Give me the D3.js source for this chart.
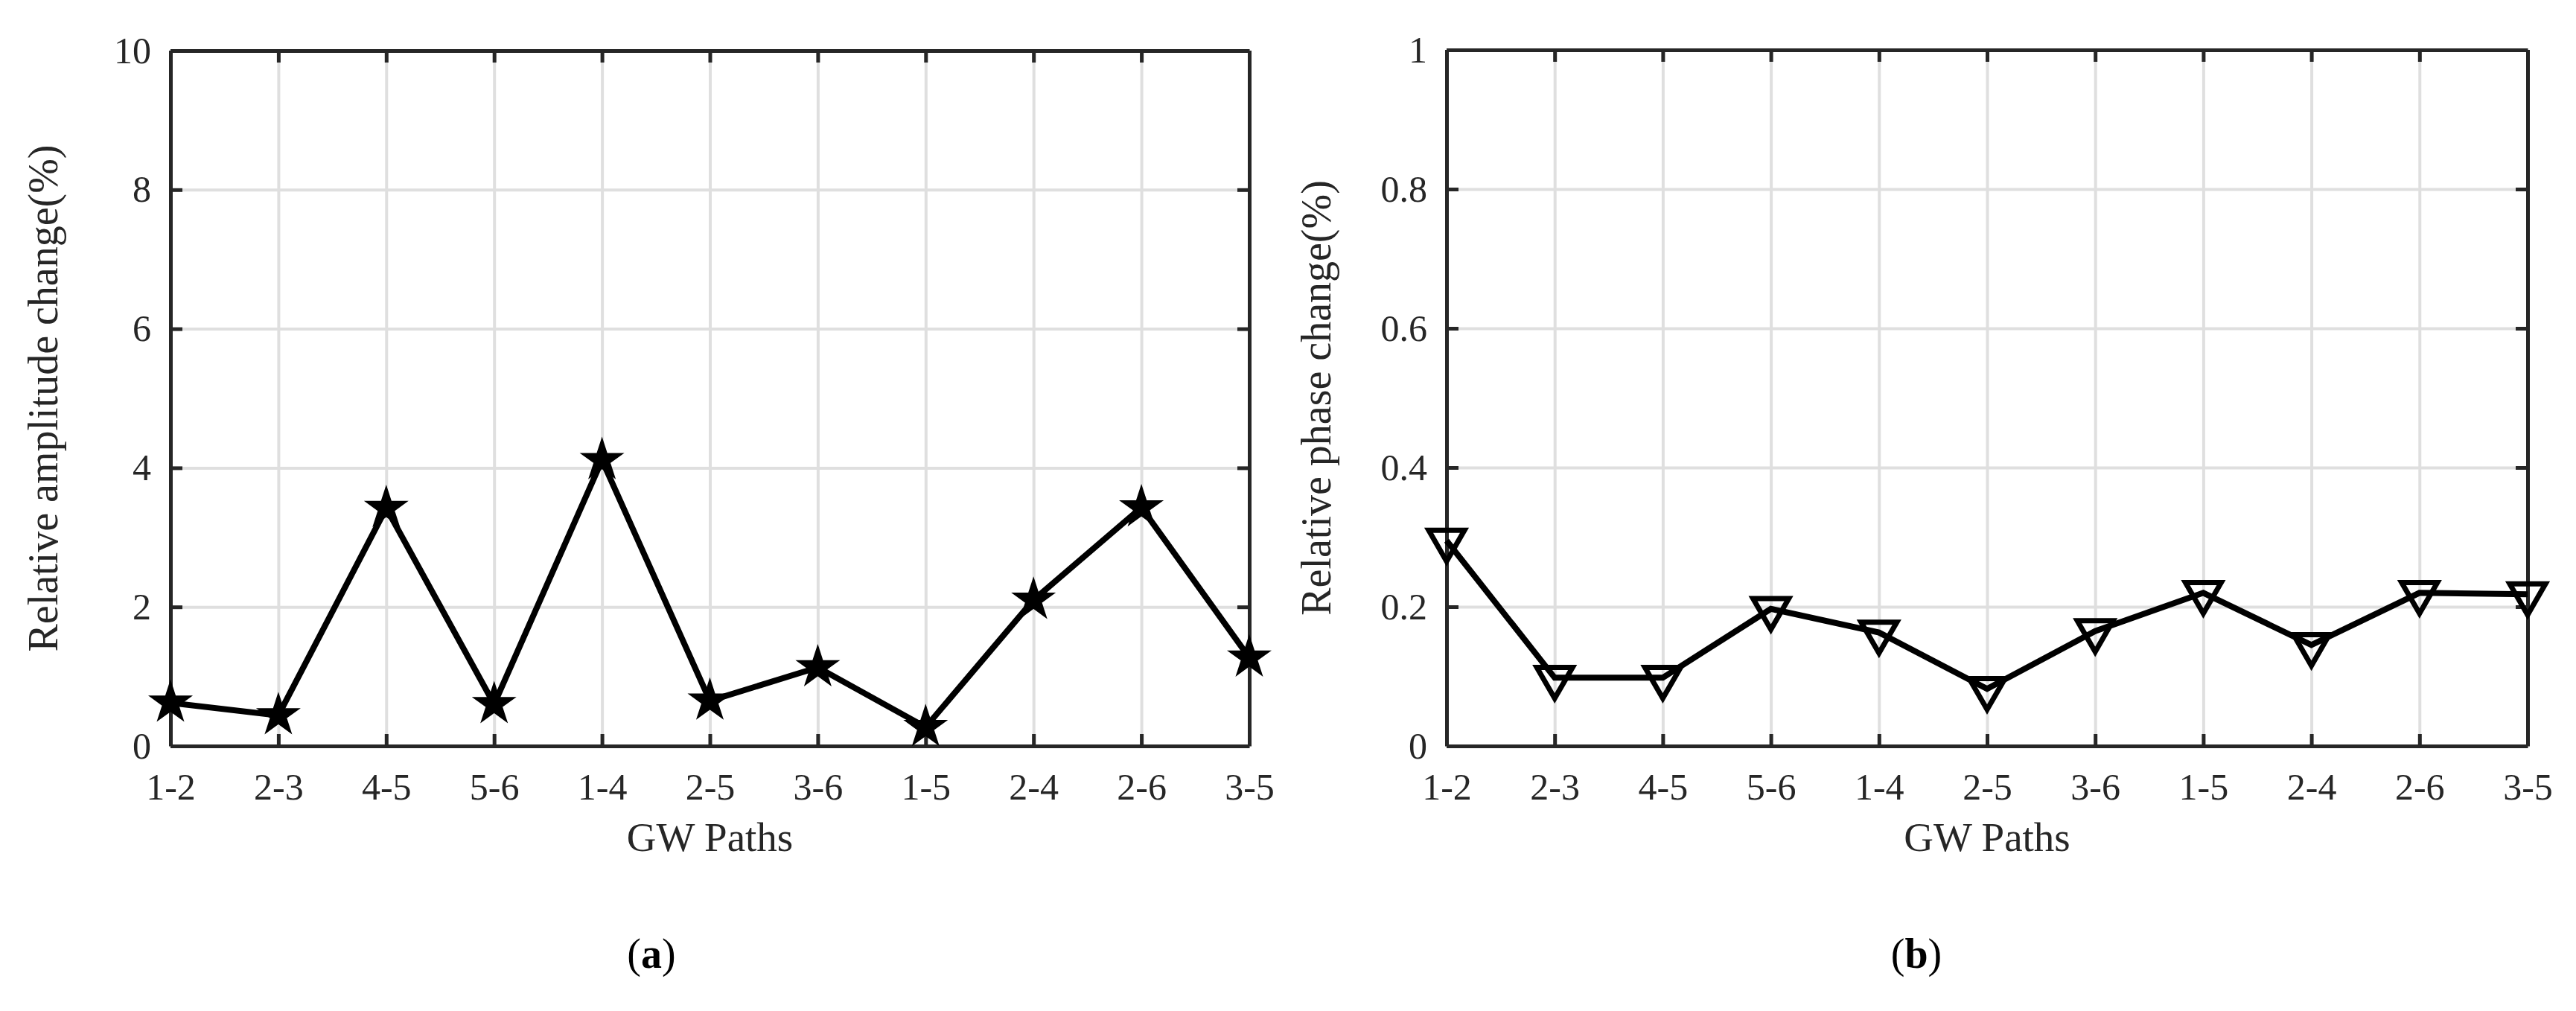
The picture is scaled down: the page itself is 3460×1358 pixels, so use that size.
<!DOCTYPE html>
<html>
<head>
<meta charset="utf-8">
<script src="https://cdn.jsdelivr.net/npm/d3@7"></script>
<style>
  body { margin: 0; background: #fff; }
  svg { display: block; }
</style>
</head>
<body>
<svg></svg>
<script>
const width = 3460;
const height = 1358;

// data
const paths = ["1-2", "2-3", "4-5", "5-6", "1-4", "2-5", "3-6", "1-5", "2-4", "2-6", "3-5"];
const amplitudeChange = [0.62, 0.44, 3.42, 0.60, 4.11, 0.65, 1.13, 0.27, 2.10, 3.43, 1.27];
const phaseChange = [0.295, 0.098, 0.098, 0.197, 0.163, 0.082, 0.165, 0.220, 0.145, 0.220, 0.218];
const amplitudeTicks = [0, 2, 4, 6, 8, 10];
const phaseTicks = [0, 0.2, 0.4, 0.6, 0.8, 1];

const font = "'Liberation Serif', 'Times New Roman', serif";
const axisColor = "#262626";
const gridColor = "#dfdfdf";

const svg = d3.select("svg")
    .attr("width", width)
    .attr("height", height);

function drawPanel(cfg) {
    const w = cfg.width, h = cfg.height;
    const g = svg.append("g").attr("transform", `translate(${cfg.left}, ${cfg.top})`);

    const x = d3.scalePoint().domain(paths).range([0, w]).padding(0);
    const y = d3.scaleLinear().domain([cfg.ticks[0], cfg.ticks[cfg.ticks.length - 1]]).range([h, 0]);

    // grid
    g.append("g")
        .attr("transform", `translate(0, ${h})`)
        .call(d3.axisBottom(x).tickSize(-h).tickFormat(""))
        .call(a => a.select(".domain").remove())
        .call(a => a.selectAll("line").attr("stroke", gridColor).attr("stroke-width", 4));
    g.append("g")
        .call(d3.axisLeft(y).tickValues(cfg.ticks).tickSize(-w).tickFormat(""))
        .call(a => a.select(".domain").remove())
        .call(a => a.selectAll("line").attr("stroke", gridColor).attr("stroke-width", 4));

    const styleAxis = a => {
        a.select(".domain").attr("stroke", axisColor).attr("stroke-width", 5);
        a.selectAll(".tick line").attr("stroke", axisColor).attr("stroke-width", 5);
        a.selectAll("text").attr("fill", axisColor).style("font-family", font).style("font-size", "50px");
    };

    g.append("g")
        .attr("transform", `translate(0, ${h})`)
        .call(d3.axisBottom(x).tickSizeInner(-16).tickSizeOuter(0).tickPadding(36))
        .call(styleAxis);
    g.append("g")
        .call(d3.axisTop(x).tickSizeInner(-16).tickSizeOuter(0).tickFormat(""))
        .call(styleAxis);
    g.append("g")
        .call(d3.axisLeft(y).tickValues(cfg.ticks).tickFormat(d3.format("~g"))
            .tickSizeInner(-16).tickSizeOuter(0).tickPadding(26))
        .call(styleAxis);
    g.append("g")
        .attr("transform", `translate(${w}, 0)`)
        .call(d3.axisRight(y).tickValues(cfg.ticks).tickFormat("").tickSizeInner(-16).tickSizeOuter(0))
        .call(styleAxis);

    // series
    g.append("path")
        .datum(cfg.values)
        .attr("fill", "none")
        .attr("stroke", "#000")
        .attr("stroke-width", 8)
        .attr("stroke-linejoin", "miter")
        .attr("d", d3.line().x((d, i) => x(paths[i])).y(d => y(d)));

    if (cfg.marker === "star") {
        g.selectAll(".marker")
            .data(cfg.values)
            .enter()
            .append("path")
            .attr("class", "marker")
            .attr("transform", (d, i) => `translate(${x(paths[i])}, ${y(d)})`)
            .attr("d", d3.symbol(d3.symbolStar).size(900))
            .attr("fill", "#000")
            .attr("stroke", "#000")
            .attr("stroke-width", 2);
    } else {
        g.selectAll(".marker")
            .data(cfg.values)
            .enter()
            .append("path")
            .attr("class", "marker")
            .attr("transform", (d, i) => `translate(${x(paths[i])}, ${y(d)}) rotate(180)`)
            .attr("d", d3.symbol(d3.symbolTriangle).size(1000))
            .attr("fill", "none")
            .attr("stroke", "#000")
            .attr("stroke-width", 7);
    }

    // labels
    g.append("text")
        .attr("x", w / 2)
        .attr("y", h + 141)
        .attr("text-anchor", "middle")
        .attr("fill", axisColor)
        .style("font-family", font)
        .style("font-size", "55px")
        .text("GW Paths");

    svg.append("text")
        .attr("transform", `translate(${cfg.ylabelX}, ${cfg.top + h / 2}) rotate(-90)`)
        .attr("text-anchor", "middle")
        .attr("fill", axisColor)
        .style("font-family", font)
        .style("font-size", "56px")
        .text(cfg.ylabel);

    const cap = svg.append("text")
        .attr("x", cfg.captionX)
        .attr("y", 1300)
        .attr("text-anchor", "middle")
        .attr("fill", "#000")
        .style("font-family", font)
        .style("font-size", "56px");
    cap.append("tspan").text("(");
    cap.append("tspan").attr("font-weight", "bold").text(cfg.caption);
    cap.append("tspan").text(")");
}

drawPanel({
    left: 229, top: 68, width: 1449, height: 934,
    values: amplitudeChange, ticks: amplitudeTicks,
    marker: "star", ylabel: "Relative amplitude change(%)", ylabelX: 77,
    caption: "a", captionX: 875
});

drawPanel({
    left: 1943, top: 67, width: 1452, height: 935,
    values: phaseChange, ticks: phaseTicks,
    marker: "triangle", ylabel: "Relative phase change(%)", ylabelX: 1787,
    caption: "b", captionX: 2574
});
</script>
</body>
</html>
